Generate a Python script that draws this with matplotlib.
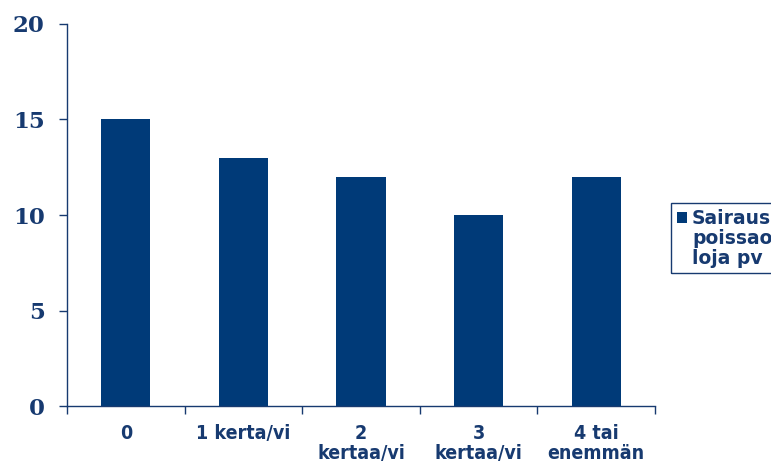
import matplotlib
matplotlib.use("Agg")
import matplotlib.pyplot as plt
from matplotlib.patches import Rectangle

categories = ["0", "1 kerta/vi", "2\nkertaa/vi", "3\nkertaa/vi", "4 tai\nenemmän"]
values = [15, 13, 12, 10, 12]
yticks = [0, 5, 10, 15, 20]
legend_label = "Sairaus\npoissao\nloja pv"

bar_color = "#003a78"
text_color = "#173a70"

fig = plt.figure(figsize=(7.71, 4.65), dpi=100)
ax = fig.add_axes([67 / 771, 1 - 406 / 465, (655 - 67) / 771, (406 - 24) / 465])

x = list(range(len(categories)))
ax.bar(x, values, width=0.42, color=bar_color)
ax.set_xlim(-0.5, len(categories) - 0.5)
ax.set_ylim(0, 20)

ax.set_yticks(yticks)
ax.set_yticklabels([str(v) for v in yticks], family="DejaVu Serif", fontweight="bold",
                   fontsize=16.5, color=text_color)
ax.tick_params(axis="y", direction="out", length=6, width=1, color=text_color, pad=10)

# tick marks between categories, labels centred without tick
ax.set_xticks([i - 0.5 for i in range(len(categories) + 1)])
ax.set_xticklabels([])
ax.tick_params(axis="x", direction="out", length=6, width=1, color=text_color)
for i, lab in enumerate(categories):
    ax.text(i, -0.95, lab, ha="center", va="top", fontsize=14, fontweight="bold",
            color=text_color, family="DejaVu Sans", stretch="condensed", linespacing=1.05)

for side in ["top", "right"]:
    ax.spines[side].set_visible(False)
for side in ["left", "bottom"]:
    ax.spines[side].set_color(text_color)
    ax.spines[side].set_linewidth(1)

# legend box, cut off by the figure edge like the original
fig.patches.append(Rectangle((671 / 771, 1 - 273 / 465), 120 / 771, 70 / 465,
                             transform=fig.transFigure, fill=False,
                             edgecolor=text_color, linewidth=1))
fig.patches.append(Rectangle((677 / 771, 1 - 223 / 465), 10 / 771, 11 / 465,
                             transform=fig.transFigure, facecolor=bar_color,
                             edgecolor="none"))
fig.text(692 / 771, 1 - 209 / 465, legend_label, ha="left", va="top", fontsize=13.5,
         fontweight="bold", color=text_color, linespacing=1.08)

fig.savefig("out.png", dpi=100)
